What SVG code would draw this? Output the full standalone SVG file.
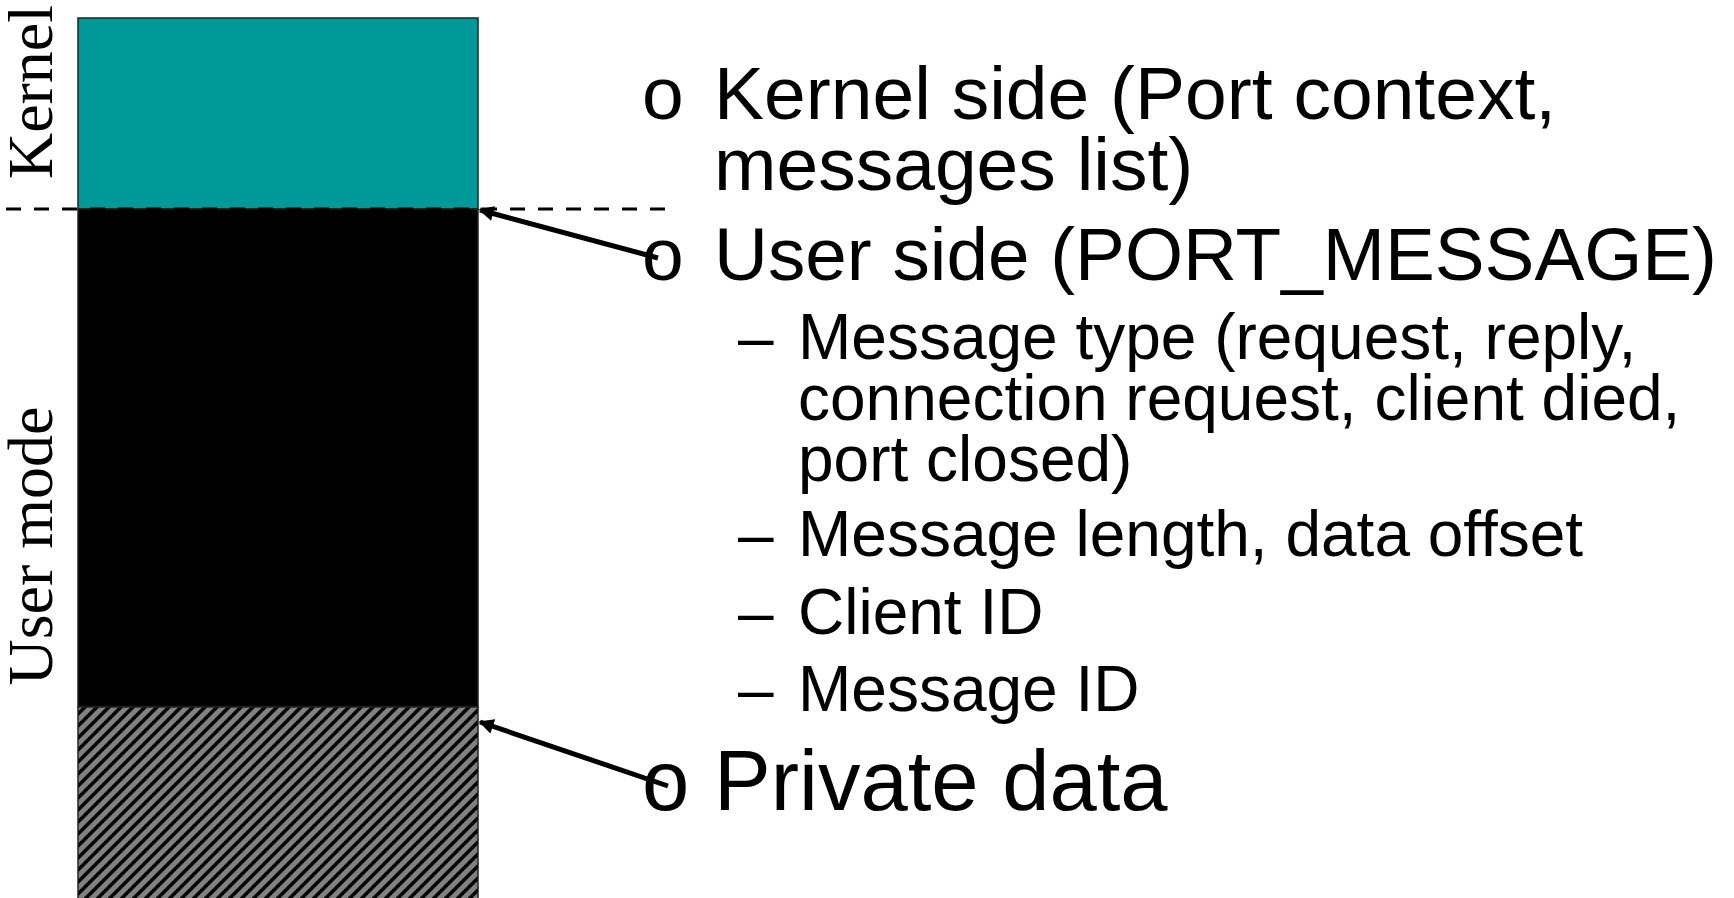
<svg xmlns="http://www.w3.org/2000/svg" width="1734" height="898" viewBox="0 0 1734 898">
<style>
.lbl{font-family:"Liberation Serif","Times New Roman",serif;font-size:64px;fill:#000}
.t{font-family:"Liberation Sans",Arial,sans-serif;fill:#000}
.m{font-size:75px}
.s{font-size:64px}
.p{font-size:85px}
.conn{stroke:#000;stroke-width:5;fill:none;marker-end:url(#ah)}
</style>
<defs>
<pattern id="hatch" patternUnits="userSpaceOnUse" width="12" height="12">
<rect width="12" height="12" fill="#808080"/>
<path d="M-3,3 L3,-3 M0,12 L12,0 M9,15 L15,9" stroke="#000" stroke-width="3.5"/>
</pattern>
<marker id="ah" viewBox="0 0 10 10" refX="9" refY="5" markerWidth="3.2" markerHeight="3" orient="auto" markerUnits="strokeWidth">
<path d="M0,0 L10,5 L0,10 Z" fill="#000"/>
</marker>
</defs>
<rect width="1734" height="898" fill="#fff"/>
<g id="stack">
<rect id="kernel-block" x="78" y="18" width="400" height="191" fill="#009999" stroke="#222" stroke-width="1.5"/>
<rect id="user-block" x="78" y="209" width="400" height="498" fill="#000" stroke="#222" stroke-width="1.5"/>
<rect id="private-block" x="78" y="707" width="400" height="200" fill="url(#hatch)" stroke="#222" stroke-width="1.5"/>
</g>
<line id="divider" x1="6" y1="209" x2="668" y2="209" stroke="#000" stroke-width="3" stroke-dasharray="15 13"/>
<g id="side-labels">
<text class="lbl" transform="translate(52,92) rotate(-90)" text-anchor="middle">Kernel</text>
<text class="lbl" transform="translate(52,546) rotate(-90)" text-anchor="middle">User mode</text>
</g>
<g id="kernel-side">
<text class="t m" x="642" y="119">o</text>
<text class="t m" x="714" y="119">Kernel side (Port context,</text>
<text class="t m" x="714" y="190">messages list)</text>
</g>
<g id="user-side">
<text class="t m" x="642" y="280">o</text>
<text class="t m" x="714" y="280" textLength="1003" lengthAdjust="spacingAndGlyphs">User side (PORT_MESSAGE)</text>
<text class="t s" x="738" y="359">–</text>
<text class="t s" x="798" y="359">Message type (request, reply,</text>
<text class="t s" x="798" y="420">connection request, client died,</text>
<text class="t s" x="798" y="481">port closed)</text>
<text class="t s" x="738" y="556">–</text>
<text class="t s" x="798" y="556">Message length, data offset</text>
<text class="t s" x="738" y="634">–</text>
<text class="t s" x="798" y="634">Client ID</text>
<text class="t s" x="738" y="711">–</text>
<text class="t s" x="798" y="711">Message ID</text>
</g>
<g id="private">
<text class="t p" x="642" y="810">o</text>
<text class="t p" x="714" y="810">Private data</text>
</g>
<g id="connectors">
<line class="conn" x1="658" y1="258" x2="480" y2="210"/>
<line class="conn" x1="668" y1="786" x2="480" y2="722"/>
</g>
</svg>
